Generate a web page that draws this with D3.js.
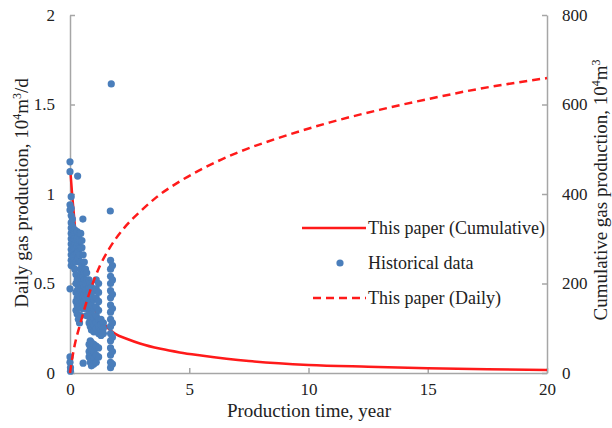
<!DOCTYPE html>
<html>
<head>
<meta charset="utf-8">
<script src="https://cdn.jsdelivr.net/npm/d3@7"></script>
<style>
  body { margin: 0; background: #fff; }
  svg { font-family: "Liberation Serif", "Times New Roman", serif; }
  .axis path, .axis line { stroke: #a6a6a6; stroke-width: 1.5; }
</style>
</head>
<body>
<svg width="612" height="428"></svg>
<script>
// ---- data ----
const xTicks = [0, 5, 10, 15, 20];
const leftTicks = [0, 0.5, 1, 1.5, 2];
const rightTicks = [0, 200, 400, 600, 800];

// solid curve (daily rate, left axis)
const dailyTime = [0.02, 0.1, 0.22, 0.3, 0.42, 0.5, 0.77, 1.0, 1.26, 1.6, 1.88, 2.4, 2.93, 3.8, 4.6, 5.5, 7.5, 10, 12.5, 15, 17.5, 20];
const dailyRate = [1.12, 0.98, 0.80, 0.70, 0.60, 0.56, 0.43, 0.36, 0.30, 0.25, 0.22, 0.19, 0.165, 0.135, 0.115, 0.098, 0.067, 0.045, 0.035, 0.027, 0.021, 0.017];

// dashed curve (cumulative, right axis)
const cumTime = [0, 0.1, 0.2, 0.42, 0.77, 1.26, 1.67, 2.3, 2.93, 3.63, 4.6, 5.5, 7, 8.79, 10.9, 12.97, 15, 17.15, 20];
const cumProd = [0, 35, 63, 108, 172, 240, 280, 326, 360, 393, 428, 455, 492, 526, 560, 588, 612, 635, 659];

// historical data: [time, daily rate]
const historical = [
  [0.0, 1.18], [0.0, 1.125], [0.32, 1.10], [0.05, 0.985], [1.69, 0.905], [0.54, 0.86], [1.73, 1.615],
  [0.0, 0.94], [0.0, 0.91], [0.0, 0.47], [0.0, 0.09], [0.0, 0.06], [0.02, 0.03], [0.02, 0.01],
  [0.05, 0.92], [0.05, 0.88], [0.05, 0.84], [0.05, 0.81], [0.05, 0.78], [0.05, 0.75], [0.05, 0.72], [0.05, 0.69], [0.05, 0.66], [0.05, 0.63], [0.05, 0.60],
  [0.1, 0.86], [0.1, 0.82], [0.1, 0.79], [0.1, 0.76], [0.1, 0.73], [0.1, 0.70], [0.1, 0.67], [0.1, 0.64], [0.1, 0.61],
  [0.15, 0.80], [0.15, 0.77], [0.15, 0.74], [0.15, 0.71], [0.15, 0.68], [0.15, 0.65], [0.15, 0.62],
  [0.2, 0.80], [0.2, 0.78], [0.2, 0.75], [0.2, 0.72], [0.2, 0.69], [0.2, 0.66], [0.2, 0.63], [0.2, 0.58],
  [0.25, 0.78], [0.25, 0.74], [0.25, 0.70], [0.25, 0.66], [0.25, 0.62], [0.25, 0.55], [0.25, 0.50], [0.25, 0.45], [0.25, 0.40], [0.25, 0.35],
  [0.3, 0.79], [0.3, 0.75], [0.3, 0.71], [0.3, 0.67], [0.3, 0.63], [0.3, 0.52], [0.3, 0.46], [0.3, 0.42], [0.3, 0.38], [0.3, 0.33],
  [0.35, 0.76], [0.35, 0.72], [0.35, 0.68], [0.35, 0.64], [0.35, 0.48], [0.35, 0.44], [0.35, 0.40], [0.35, 0.30],
  [0.4, 0.78], [0.4, 0.74], [0.4, 0.70], [0.4, 0.66], [0.4, 0.62], [0.4, 0.50], [0.4, 0.44], [0.4, 0.38], [0.4, 0.28],
  [0.45, 0.78], [0.45, 0.70], [0.45, 0.62], [0.45, 0.58], [0.45, 0.54], [0.45, 0.50], [0.45, 0.46], [0.45, 0.42], [0.45, 0.32],
  [0.5, 0.74], [0.5, 0.70], [0.5, 0.60], [0.5, 0.56], [0.5, 0.52], [0.5, 0.48], [0.5, 0.44], [0.5, 0.40], [0.5, 0.36],
  [0.55, 0.66], [0.55, 0.58], [0.55, 0.54], [0.55, 0.50], [0.55, 0.46], [0.55, 0.42], [0.55, 0.38], [0.55, 0.055],
  [0.6, 0.62], [0.6, 0.56], [0.6, 0.52], [0.6, 0.48], [0.6, 0.44], [0.6, 0.40], [0.6, 0.36],
  [0.65, 0.58], [0.65, 0.50], [0.65, 0.46], [0.65, 0.42], [0.65, 0.38],
  [0.7, 0.56], [0.7, 0.52], [0.7, 0.44], [0.7, 0.40], [0.7, 0.36], [0.7, 0.32],
  [0.8, 0.52], [0.8, 0.48], [0.8, 0.44], [0.8, 0.40], [0.8, 0.36], [0.8, 0.32], [0.8, 0.28], [0.8, 0.16], [0.8, 0.12], [0.8, 0.09],
  [0.85, 0.50], [0.85, 0.45], [0.85, 0.40], [0.85, 0.35], [0.85, 0.30], [0.85, 0.26], [0.85, 0.18], [0.85, 0.14], [0.85, 0.10], [0.85, 0.06],
  [0.9, 0.48], [0.9, 0.43], [0.9, 0.38], [0.9, 0.33], [0.9, 0.28], [0.9, 0.24], [0.9, 0.17], [0.9, 0.13], [0.9, 0.08], [0.9, 0.04],
  [1.0, 0.46], [1.0, 0.41], [1.0, 0.36], [1.0, 0.31], [1.0, 0.27], [1.0, 0.23], [1.0, 0.16], [1.0, 0.12], [1.0, 0.08], [1.0, 0.05],
  [1.1, 0.52], [1.1, 0.47], [1.1, 0.42], [1.1, 0.37], [1.1, 0.32], [1.1, 0.28], [1.1, 0.25], [1.1, 0.15], [1.1, 0.10], [1.1, 0.06],
  [1.2, 0.50], [1.2, 0.45], [1.2, 0.40], [1.2, 0.35], [1.2, 0.30], [1.2, 0.26], [1.2, 0.22], [1.2, 0.14], [1.2, 0.09],
  [1.3, 0.30], [1.3, 0.27], [1.3, 0.24], [1.3, 0.21],
  [1.4, 0.28], [1.4, 0.25], [1.4, 0.22],
  [1.7, 0.63], [1.7, 0.58], [1.7, 0.54], [1.7, 0.50], [1.7, 0.46], [1.7, 0.42], [1.7, 0.38], [1.7, 0.34], [1.7, 0.30], [1.7, 0.26],
  [1.7, 0.22], [1.7, 0.18], [1.7, 0.14], [1.7, 0.10], [1.7, 0.06], [1.7, 0.03],
  [1.78, 0.60], [1.78, 0.52], [1.78, 0.44], [1.78, 0.36], [1.78, 0.28], [1.78, 0.20], [1.78, 0.12], [1.78, 0.05]
];

const legendLabels = ["This paper (Cumulative)", "Historical data", "This paper (Daily)"];

// ---- layout ----
const svg = d3.select("svg");
const margin = {left: 70, right: 65, top: 15, bottom: 55};
const width = 612 - margin.left - margin.right;
const height = 428 - margin.top - margin.bottom;
const red = "#ff1a1a";
const blue = "#4a7ebb";
const serif = '"Liberation Serif", "Times New Roman", serif';

const x = d3.scaleLinear().domain([0, 20]).range([0, width]);
const yL = d3.scaleLinear().domain([0, 2]).range([height, 0]);
const yR = d3.scaleLinear().domain([0, 800]).range([height, 0]);

const g = svg.append("g").attr("transform", `translate(${margin.left},${margin.top})`);

function styleAxis(sel) {
  sel.attr("font-family", serif).attr("font-size", 17);
  sel.selectAll("text").attr("fill", "#222");
}

g.append("g").attr("class", "axis")
  .attr("transform", `translate(0,${height})`)
  .call(d3.axisBottom(x).tickValues(xTicks).tickSizeInner(-5).tickSizeOuter(0).tickPadding(10))
  .call(styleAxis);

g.append("g").attr("class", "axis")
  .call(d3.axisLeft(yL).tickValues(leftTicks).tickFormat(d3.format("~g")).tickSizeInner(-5).tickSizeOuter(0).tickPadding(15))
  .call(styleAxis);

g.append("g").attr("class", "axis")
  .attr("transform", `translate(${width},0)`)
  .call(d3.axisRight(yR).tickValues(rightTicks).tickSizeInner(-5).tickSizeOuter(0).tickPadding(15))
  .call(styleAxis);

// solid curve under the dots
const dailyLine = d3.line().x(d => x(d[0])).y(d => yL(d[1])).curve(d3.curveMonotoneX);
g.append("path")
  .datum(dailyTime.map((t, i) => [t, dailyRate[i]]))
  .attr("d", dailyLine)
  .attr("fill", "none").attr("stroke", red).attr("stroke-width", 2.5);

g.selectAll("circle.hist")
  .data(historical)
  .enter().append("circle")
    .attr("class", "hist")
    .attr("cx", d => x(d[0]))
    .attr("cy", d => yL(d[1]))
    .attr("r", 3.6)
    .attr("fill", blue);

const cumLine = d3.line().x(d => x(d[0])).y(d => yR(d[1])).curve(d3.curveMonotoneX);
g.append("path")
  .datum(cumTime.map((t, i) => [t, cumProd[i]]))
  .attr("d", cumLine)
  .attr("fill", "none").attr("stroke", red).attr("stroke-width", 2.5)
  .attr("stroke-dasharray", "8,5");

// ---- axis titles ----
svg.append("text")
  .attr("x", 309).attr("y", 417)
  .attr("text-anchor", "middle").attr("font-size", 19).attr("fill", "#222")
  .text("Production time, year");

const leftTitle = svg.append("text")
  .attr("transform", "translate(28,193) rotate(-90)")
  .attr("text-anchor", "middle").attr("font-size", 19).attr("fill", "#222");
leftTitle.append("tspan").text("Daily gas production, 10");
leftTitle.append("tspan").attr("dy", -7).attr("font-size", 12).text("4");
leftTitle.append("tspan").attr("dy", 7).text("m");
leftTitle.append("tspan").attr("dy", -7).attr("font-size", 12).text("3");
leftTitle.append("tspan").attr("dy", 7).text("/d");

const rightTitle = svg.append("text")
  .attr("transform", "translate(607,190) rotate(-90)")
  .attr("text-anchor", "middle").attr("font-size", 19).attr("fill", "#222");
rightTitle.append("tspan").text("Cumulative gas production, 10");
rightTitle.append("tspan").attr("dy", -7).attr("font-size", 12).text("4");
rightTitle.append("tspan").attr("dy", 7).text("m");
rightTitle.append("tspan").attr("dy", -7).attr("font-size", 12).text("3");

// ---- legend ----
const legend = svg.append("g").attr("transform", "translate(300,228)");
legend.append("line").attr("x1", 2).attr("x2", 66).attr("y1", 0).attr("y2", 0)
  .attr("stroke", red).attr("stroke-width", 2.5);
legend.append("circle").attr("cx", 40).attr("cy", 35).attr("r", 3.6).attr("fill", blue);
legend.append("line").attr("x1", 13).attr("x2", 66).attr("y1", 70).attr("y2", 70)
  .attr("stroke", red).attr("stroke-width", 2.5).attr("stroke-dasharray", "8,5");
legend.selectAll("text.leg")
  .data(legendLabels)
  .enter().append("text")
    .attr("class", "leg")
    .attr("x", 68).attr("y", (d, i) => i * 35 + 6)
    .attr("font-size", 18).attr("fill", "#222")
    .text(d => d);
</script>
</body>
</html>
